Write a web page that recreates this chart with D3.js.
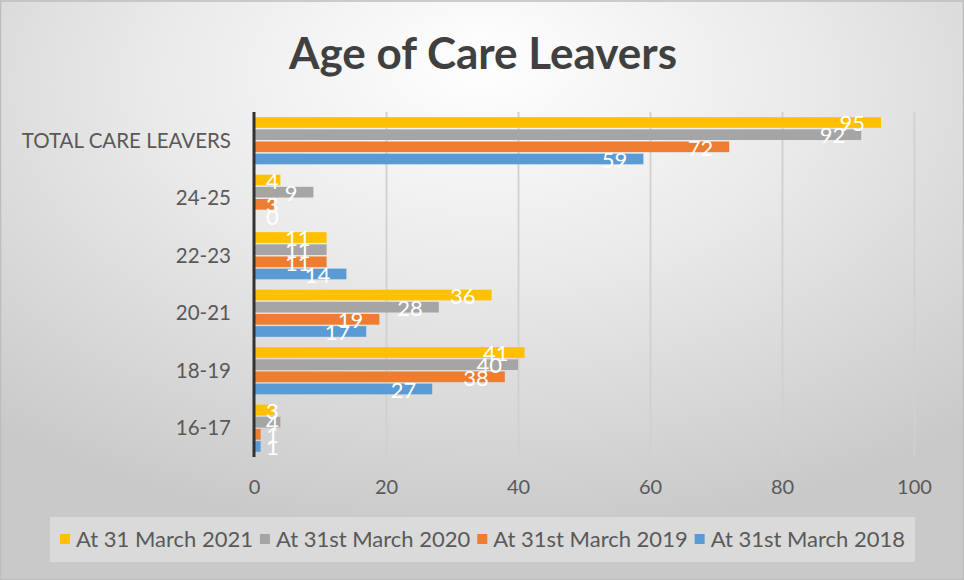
<!DOCTYPE html>
<html>
<head>
<meta charset="utf-8">
<script src="https://cdn.jsdelivr.net/npm/d3@7"></script>
<style>
  html, body { margin: 0; padding: 0; background: #ffffff; }
  svg { display: block; font-family: Lato, "Open Sans", sans-serif; }
</style>
</head>
<body>
<svg id="chart" width="964" height="580"></svg>
<script>
// Age groups, top to bottom
const categories = ["TOTAL CARE LEAVERS", "24-25", "22-23", "20-21", "18-19", "16-17"];
// Series, drawn in this order within each group
const seriesNames = ["At 31 March 2021", "At 31st March 2020", "At 31st March 2019", "At 31st March 2018"];
const values2021 = [95, 4, 11, 36, 41, 3];
const values2020 = [92, 9, 11, 28, 40, 4];
const values2019 = [72, 3, 11, 19, 38, 1];
const values2018 = [59, 0, 14, 17, 27, 1];
const xTicks = [0, 20, 40, 60, 80, 100];
const seriesColors = ["#FFC000", "#A5A5A5", "#ED7D31", "#5B9BD5"];

const seriesValues = [values2021, values2020, values2019, values2018];
const rows = categories.map((c, i) => ({
  category: c,
  vals: seriesNames.map((s, j) => ({ series: s, idx: j, value: seriesValues[j][i] }))
}));

const W = 964, H = 580;
const svg = d3.select("#chart");
const defs = svg.append("defs");

// Soft radial background
const bg = defs.append("radialGradient").attr("id", "bgGrad")
  .attr("cx", "50%").attr("cy", "18%").attr("r", "75%")
  .attr("fx", "50%").attr("fy", "10%");
bg.append("stop").attr("offset", "0%").attr("stop-color", "#ffffff");
bg.append("stop").attr("offset", "45%").attr("stop-color", "#eaeaea");
bg.append("stop").attr("offset", "100%").attr("stop-color", "#c9c9c9");

svg.append("rect").attr("x", 0).attr("y", 0).attr("width", W).attr("height", H)
  .attr("fill", "url(#bgGrad)");
svg.append("rect").attr("x", 0.5).attr("y", 1).attr("width", W - 1).attr("height", H - 1.5)
  .attr("fill", "none").attr("stroke", "#bdbdbd").attr("stroke-width", 1.5);

// Title
svg.append("text")
  .attr("x", 483).attr("y", 69)
  .attr("text-anchor", "middle")
  .attr("font-size", 44).attr("font-weight", 700)
  .attr("fill", "#404040")
  .text("Age of Care Leavers");

// Scales
const plotTop = 112, plotBottom = 457;
const x = d3.scaleLinear().domain([0, 100]).range([254, 914]);
const y = d3.scaleBand().domain(categories).range([plotTop, plotBottom])
  .paddingInner(0.18).paddingOuter(0.09);
const ySub = d3.scaleBand().domain(seriesNames).range([0, y.bandwidth()]).paddingInner(0.12);

// Gridlines darkening toward the bottom
const gridGrad = defs.append("linearGradient").attr("id", "gridGrad")
  .attr("gradientUnits", "userSpaceOnUse")
  .attr("x1", 0).attr("y1", plotTop).attr("x2", 0).attr("y2", plotBottom);
gridGrad.append("stop").attr("offset", "0%").attr("stop-color", "#d0d0d0");
gridGrad.append("stop").attr("offset", "100%").attr("stop-color", "#808080");

const grid = d3.axisBottom(x).tickValues(xTicks.slice(1)).tickSize(-(plotBottom - plotTop)).tickFormat("");
svg.append("g")
  .attr("transform", `translate(0,${plotBottom})`)
  .call(grid)
  .call(g => g.select(".domain").remove())
  .call(g => g.selectAll("line").attr("stroke", "url(#gridGrad)").attr("stroke-width", 1.8));

// Tick labels along the bottom
const xAxis = d3.axisBottom(x).tickValues(xTicks).tickSize(0).tickPadding(0);
svg.append("g")
  .attr("transform", `translate(0,${plotBottom + 37})`)
  .call(xAxis)
  .call(g => g.select(".domain").remove())
  .call(g => g.selectAll("text")
    .attr("dy", 0)
    .attr("font-size", 20).attr("font-family", "Lato, sans-serif")
    .attr("fill", "#595959"));

// Category labels
const yAxis = d3.axisLeft(y).tickSize(0).tickPadding(0);
svg.append("g")
  .attr("transform", `translate(231,0)`)
  .call(yAxis)
  .call(g => g.select(".domain").remove())
  .call(g => g.selectAll("text")
    .attr("dy", "0.35em")
    .attr("font-size", 20.5).attr("font-family", "Lato, sans-serif")
    .attr("fill", "#595959"));

// Bars
const groups = svg.append("g").selectAll("g.cat").data(rows).join("g")
  .attr("class", "cat")
  .attr("transform", d => `translate(0,${y(d.category)})`);

groups.selectAll("rect").data(d => d.vals).join("rect")
  .attr("x", x(0))
  .attr("y", d => ySub(d.series))
  .attr("width", d => x(d.value) - x(0))
  .attr("height", ySub.bandwidth())
  .attr("fill", d => seriesColors[d.idx]);

// Category axis line
svg.append("line")
  .attr("x1", x(0)).attr("x2", x(0))
  .attr("y1", plotTop).attr("y2", plotBottom)
  .attr("stroke", "#333333").attr("stroke-width", 3);

// Value labels, placed just inside the end of each bar
groups.selectAll("text.val").data(d => d.vals).join("text")
  .attr("class", "val")
  .attr("font-size", 22)
  .attr("fill", "#ffffff")
  .attr("text-anchor", "end")
  .attr("y", d => ySub(d.series) + ySub.bandwidth() / 2)
  .attr("dy", "0.4em")
  .text(d => d.value)
  .each(function (d) {
    const w = this.getComputedTextLength();
    const xr = Math.max(x(d.value) - 16, x(0) + 12 + w);
    d3.select(this).attr("x", xr);
  });

// Legend
const legend = svg.append("g");
legend.append("rect")
  .attr("x", 50).attr("y", 517).attr("width", 865).attr("height", 45)
  .attr("fill", "#ffffff").attr("fill-opacity", 0.32);

const items = legend.selectAll("g.item").data(seriesNames).join("g").attr("class", "item");
items.append("rect")
  .attr("width", 10).attr("height", 10)
  .attr("y", 534)
  .attr("fill", (d, i) => seriesColors[i]);
items.append("text")
  .attr("y", 539).attr("dy", "0.36em")
  .attr("font-size", 22).attr("fill", "#595959")
  .text(d => d);

// Lay legend entries out in a row centred in the box
const widths = [];
items.select("text").each(function () { widths.push(this.getComputedTextLength()); });
const markerGap = 6, itemGap = 7;
const total = d3.sum(widths) + widths.length * (10 + markerGap) + (widths.length - 1) * itemGap;
let cursor = 50 + 865 / 2 - total / 2;
items.each(function (d, i) {
  const g = d3.select(this);
  g.select("rect").attr("x", cursor);
  g.select("text").attr("x", cursor + 10 + markerGap);
  cursor += 10 + markerGap + widths[i] + itemGap;
});
</script>
</body>
</html>
